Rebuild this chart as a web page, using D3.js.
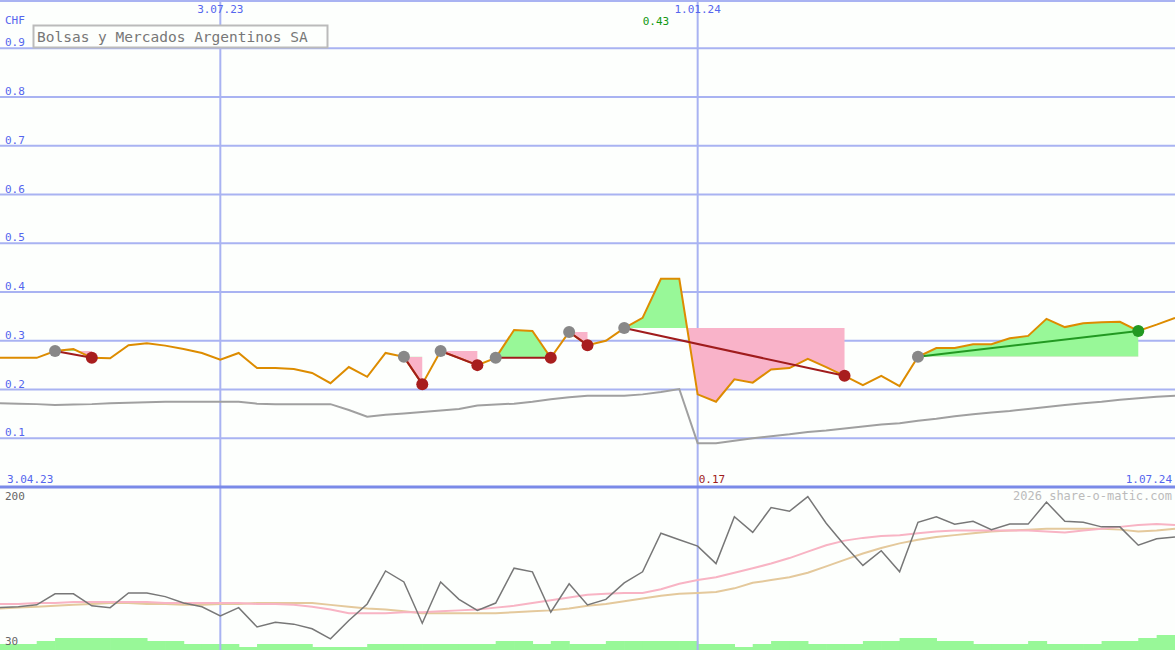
<!DOCTYPE html>
<html>
<head>
<meta charset="utf-8">
<script src="https://cdn.jsdelivr.net/npm/d3@7"></script>
<style>
body { margin: 0; background: #fdfffd; }
text { font-family: "DejaVu Sans Mono", monospace; }
</style>
</head>
<body>
<script>
// weekly closes, CHF
const price = [0.265,0.265,0.265,0.279,0.283,0.265,0.264,0.291,0.295,0.290,0.283,0.275,0.261,0.275,0.244,0.244,
  0.242,0.234,0.213,0.246,0.226,0.275,0.267,0.211,0.279,0.265,0.250,0.265,0.322,0.320,0.265,0.318,0.291,0.300,
  0.326,0.347,0.427,0.427,0.190,0.175,0.221,0.214,0.241,0.244,0.263,0.246,0.228,0.209,0.228,0.207,0.267,0.285,
  0.285,0.293,0.293,0.305,0.310,0.345,0.328,0.336,0.338,0.339,0.320,0.333,0.347];
const refLine = [0.172,0.171,0.170,0.168,0.169,0.170,0.172,0.173,0.174,0.175,0.175,0.175,0.175,0.175,0.171,0.170,
  0.170,0.170,0.170,0.158,0.144,0.148,0.151,0.154,0.157,0.160,0.167,0.169,0.171,0.175,0.180,0.184,0.187,0.187,
  0.187,0.190,0.195,0.201,0.090,0.090,0.095,0.100,0.104,0.108,0.113,0.116,0.120,0.124,0.128,0.131,0.136,0.140,
  0.145,0.149,0.153,0.156,0.160,0.164,0.168,0.172,0.175,0.179,0.182,0.185,0.187];
const indicator = [74,75,77,89,89,76,74,90,90,86,79,75,65,74,53,58,56,51,40,60,78,114,102,57,102,83,71,79,117,113,
  69,100,77,83,101,113,155,148,141,122,173,156,183,179,195,166,142,120,136,113,167,173,165,168,159,165,165,189,
  168,167,162,162,142,149,151];
const indMaFast = [78,78,79,79,80,80,80,80,80,79,79,79,79,79,78,78,77,75,72,68,68,68,69,69,70,71,72,74,76,79,82,85,
  88,89,90,90,94,100,104,107,112,117,122,128,135,142,147,150,152,153,155,157,158,158,158,158,158,157,156,158,160,
  162,164,165,164];
const indMaSlow = [73,74,75,76,77,78,79,79,78,78,77,77,78,78,79,79,79,79,77,75,73,72,70,68,68,68,68,68,69,70,71,73,
  76,78,81,84,87,89,90,91,95,101,104,107,112,119,126,133,139,144,148,151,153,155,157,158,159,160,160,160,160,159,
  157,158,160];
const volume = [2,2,3,4,4,4,4,4,3,3,2,2,2,1,2,2,2,1,1,1,2,2,2,2,2,2,2,3,3,2,3,2,2,3,3,3,3,3,2,2,1,2,3,3,2,2,2,3,3,4,
  4,3,3,2,2,2,3,2,2,2,3,3,4,5,5];
// trades: entry index, exit index
const trades = [[3,5],[22,23],[24,26],[27,30],[31,32],[34,46],[50,62]];
const priceTicks = [0.1,0.2,0.3,0.4,0.5,0.6,0.7,0.8,0.9];
const dates = d3.timeMonday.range(new Date(2023,3,10), new Date(2024,6,2));
const vLines = [new Date(2023,6,3), new Date(2024,0,1)];
const vLabels = ["3.07.23","1.01.24"];

const W = 1175, H = 650;
const svg = d3.select("body").append("svg").attr("width", W).attr("height", H);
svg.append("rect").attr("width", W).attr("height", H).attr("fill", "#fdfffd");

const x = d3.scaleTime().domain([new Date(2023,3,10), new Date(2024,6,1)]).range([0, W]);
const y = d3.scaleLinear().domain([0, 1]).range([487, -0.5]);
const y2 = d3.scaleLinear().domain([30, 200]).range([648, 492]);
const yv = d3.scaleLinear().domain([0, 5]).range([650, 635]);
const grid = "#a9b3f2";

// volume bars
svg.append("g").selectAll("rect").data(volume).join("rect")
  .attr("x", (d, i) => x(dates[i])).attr("width", 19)
  .attr("y", d => yv(d)).attr("height", d => 650 - yv(d))
  .attr("fill", "#98f898");

// grid
svg.append("g").selectAll("line").data(priceTicks).join("line")
  .attr("x1", 0).attr("x2", W).attr("y1", d => y(d)).attr("y2", d => y(d))
  .attr("stroke", grid).attr("stroke-width", 2);
svg.append("line").attr("x1", 0).attr("x2", W).attr("y1", 1).attr("y2", 1).attr("stroke", grid).attr("stroke-width", 2);
svg.append("g").selectAll("line").data(vLines).join("line")
  .attr("x1", d => x(d)).attr("x2", d => x(d)).attr("y1", 0).attr("y2", H)
  .attr("stroke", grid).attr("stroke-width", 2);
svg.append("line").attr("x1", 0).attr("x2", W).attr("y1", 487).attr("y2", 487).attr("stroke", "#7a8ae8").attr("stroke-width", 3);

svg.append("g").selectAll("text").data(priceTicks).join("text")
  .attr("x", 5).attr("y", d => y(d) - 2).attr("fill", "#5566ee").attr("font-size", 11)
  .text(d => d.toFixed(1));
svg.append("text").attr("x", 5).attr("y", 24).attr("fill", "#5566ee").attr("font-size", 11).text("CHF");
svg.append("g").selectAll("text").data(vLines).join("text")
  .attr("x", d => x(d)).attr("y", 13).attr("text-anchor", "middle").attr("fill", "#5566ee").attr("font-size", 11)
  .text((d, i) => vLabels[i]);
svg.append("text").attr("x", 7).attr("y", 483).attr("fill", "#5566ee").attr("font-size", 11).text("3.04.23");
svg.append("text").attr("x", 1172).attr("y", 483).attr("text-anchor", "end").attr("fill", "#5566ee").attr("font-size", 11).text("1.07.24");

// trade shading: area between price and entry level, split above / below the level
const defs = svg.append("defs");
const area = d3.area().x(d => x(d.date)).y1(d => y(d.v));
trades.forEach(([a, b], k) => {
  const lvl = price[a];
  const pts = d3.range(a, b + 1).map(i => ({ date: dates[i], v: price[i] }));
  defs.append("clipPath").attr("id", "up" + k).append("rect")
    .attr("x", 0).attr("width", W).attr("y", 0).attr("height", y(lvl));
  defs.append("clipPath").attr("id", "dn" + k).append("rect")
    .attr("x", 0).attr("width", W).attr("y", y(lvl)).attr("height", 487 - y(lvl));
  svg.append("path").datum(pts).attr("d", area.y0(y(lvl)))
    .attr("fill", "#98f898").attr("clip-path", `url(#up${k})`);
  svg.append("path").datum(pts).attr("d", area.y0(y(lvl)))
    .attr("fill", "#f9b3c9").attr("clip-path", `url(#dn${k})`);
});

const line = d3.line().x((d, i) => x(dates[i]));
svg.append("path").datum(refLine).attr("d", line.y(d => y(d)))
  .attr("fill", "none").attr("stroke", "#a0a0a0").attr("stroke-width", 2);
svg.append("path").datum(price).attr("d", line.y(d => y(d)))
  .attr("fill", "none").attr("stroke", "#dd8c00").attr("stroke-width", 2);

trades.forEach(([a, b]) => {
  const win = price[b] > price[a];
  svg.append("line")
    .attr("x1", x(dates[a])).attr("y1", y(price[a])).attr("x2", x(dates[b])).attr("y2", y(price[b]))
    .attr("stroke", win ? "#229922" : "#a01c1c").attr("stroke-width", 2);
  svg.append("circle").attr("cx", x(dates[a])).attr("cy", y(price[a])).attr("r", 6).attr("fill", "#888");
  svg.append("circle").attr("cx", x(dates[b])).attr("cy", y(price[b])).attr("r", 6)
    .attr("fill", win ? "#229922" : "#a81e1e");
});

const iMax = d3.maxIndex(price);
svg.append("text").attr("x", x(dates[iMax]) - 5).attr("y", 25).attr("text-anchor", "middle")
  .attr("fill", "#119911").attr("font-size", 11).text(price[iMax].toFixed(2));
svg.append("text").attr("x", x(vLines[1]) + 1).attr("y", 483)
  .attr("fill", "#a01c1c").attr("font-size", 11).text("0.17");

// title box
svg.append("rect").attr("x", 33.5).attr("y", 25.5).attr("width", 294).attr("height", 22)
  .attr("fill", "#fdfffd").attr("stroke", "#bbb").attr("stroke-width", 2);
svg.append("text").attr("x", 37).attr("y", 42).attr("fill", "#777").attr("font-size", 14.5)
  .text("Bolsas y Mercados Argentinos SA");

// lower panel
svg.append("path").datum(indMaSlow).attr("d", line.y(d => y2(d)))
  .attr("fill", "none").attr("stroke", "#e4c99c").attr("stroke-width", 2);
svg.append("path").datum(indMaFast).attr("d", line.y(d => y2(d)))
  .attr("fill", "none").attr("stroke", "#f8b4c4").attr("stroke-width", 2);
svg.append("path").datum(indicator).attr("d", line.y(d => y2(d)))
  .attr("fill", "none").attr("stroke", "#777").attr("stroke-width", 1.5);
svg.append("text").attr("x", 5).attr("y", 500).attr("fill", "#666").attr("font-size", 11).text("200");
svg.append("text").attr("x", 5).attr("y", 645).attr("fill", "#666").attr("font-size", 11).text("30");
svg.append("text").attr("x", 1172).attr("y", 500).attr("text-anchor", "end").attr("fill", "#bbb").attr("font-size", 12)
  .text("2026 share-o-matic.com");
</script>
</body>
</html>
